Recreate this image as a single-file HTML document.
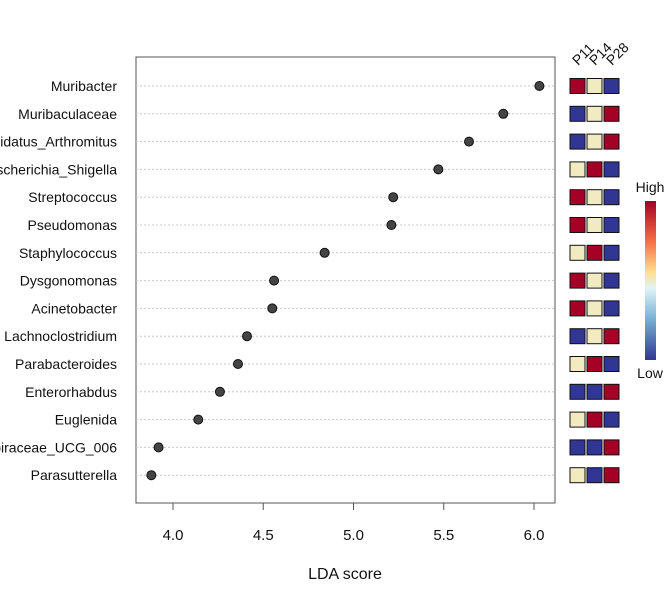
<!DOCTYPE html>
<html><head><meta charset="utf-8"><style>
body{margin:0;background:#fff}
svg{font-family:"Liberation Sans",sans-serif}
</style></head><body>
<svg width="672" height="600">
<defs><linearGradient id="cg" x1="0" y1="0" x2="0" y2="1">
<stop offset="0" stop-color="#a50026"/><stop offset="0.25" stop-color="#f46d43"/>
<stop offset="0.45" stop-color="#fee090"/><stop offset="0.55" stop-color="#e0f3f8"/>
<stop offset="0.75" stop-color="#74add1"/><stop offset="1" stop-color="#313695"/>
</linearGradient></defs>
<g id="g"></g>
</svg>
<script>
const taxa=["Muribacter","Muribaculaceae","Candidatus_Arthromitus","Escherichia_Shigella","Streptococcus","Pseudomonas","Staphylococcus","Dysgonomonas","Acinetobacter","Lachnoclostridium","Parabacteroides","Enterorhabdus","Euglenida","Lachnospiraceae_UCG_006","Parasutterella"];
const lda=[6.03,5.83,5.64,5.47,5.22,5.21,4.84,4.56,4.55,4.41,4.36,4.26,4.14,3.92,3.88];
const groups=["P11","P14","P28"];
const heat=["RCB","BCR","BCR","CRB","RCB","RCB","CRB","RCB","RCB","BCR","CRB","BBR","CRB","BBR","CBR"];
const ticks=[4.0,4.5,5.0,5.5,6.0];
const NS="http://www.w3.org/2000/svg";
const g=document.getElementById('g');
const X=v=>173+(v-4)*180.5;
const Y=i=>86+i*27.8;
function mk(t,a,txt){const e=document.createElementNS(NS,t);for(const k in a)e.setAttribute(k,a[k]);if(txt!=null)e.textContent=txt;g.appendChild(e);return e;}
const col={R:"#a50026",C:"#f2ebc2",B:"#313695"};
let e=mk('rect',{x:136,y:57,width:419,height:446,fill:'none',stroke:'#555','stroke-width':1});


taxa.forEach((t,i)=>{
 const y=Y(i);
 let l=mk('line',{x1:136,x2:555,y1:y,y2:y,stroke:'#c8c8c8','stroke-dasharray':'2,2'});
 
 
 let tx=mk('text',{x:117,y:y+5,'text-anchor':'end','font-size':14,fill:'#111'},t);
 
 
 let c=mk('circle',{cx:X(lda[i]),cy:y,r:4.5,fill:'#444',stroke:'#111','stroke-width':1});
 
 
 heat[i].split('').forEach((h,j)=>{
  let r=mk('rect',{x:570+j*17,y:y-7.5,width:15,height:15,fill:col[h],stroke:'#111','stroke-width':1});
  
  
 });
});
ticks.forEach(v=>{
 let l=mk('line',{x1:X(v),x2:X(v),y1:503,y2:510,stroke:'#555'});
 
 
 let t=mk('text',{x:X(v),y:540,'text-anchor':'middle','font-size':15,fill:'#111'},v.toFixed(1));
 
 
});
e=mk('text',{x:345,y:579,'text-anchor':'middle','font-size':16,fill:'#111'},'LDA score');


groups.forEach((s,j)=>{
 const x=578+j*17;
 let t=mk('text',{x:x,y:66,'font-size':14,fill:'#111',transform:`rotate(-45 ${x} 66)`},s);
 
 
});
e=mk('rect',{x:645,y:201,width:11,height:159,fill:'url(#cg)'});


e=mk('text',{x:650,y:192,'text-anchor':'middle','font-size':14,fill:'#111'},'High');


e=mk('text',{x:650,y:378,'text-anchor':'middle','font-size':14,fill:'#111'},'Low');


</script>
</body></html>
